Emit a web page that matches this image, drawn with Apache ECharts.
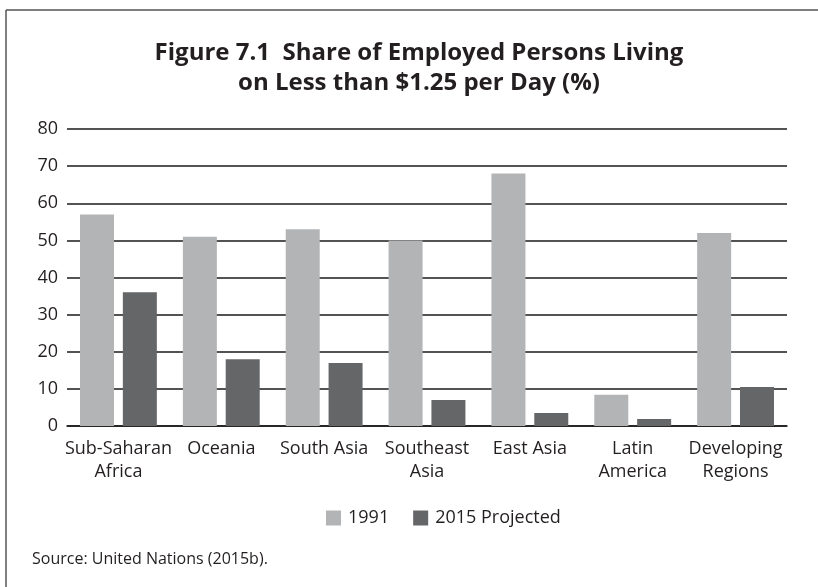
<!DOCTYPE html>
<html>
<head>
<meta charset="utf-8">
<script src="https://cdn.jsdelivr.net/npm/echarts@6/dist/echarts.min.js"></script>
<style>
html,body{margin:0;padding:0;background:#fff;}
#chart{width:818px;height:587px;}
</style>
</head>
<body>
<div id="chart"></div>
<script>
const categories = ['Sub-Saharan\nAfrica', 'Oceania', 'South Asia', 'Southeast\nAsia', 'East Asia', 'Latin\nAmerica', 'Developing\nRegions'];
const series1991 = [57, 51, 53, 50, 68, 8.4, 52];
const series2015 = [36, 18, 17, 7, 3.5, 1.9, 10.5];
const seriesNames = ['1991', '2015 Projected'];
const yTicks = {min: 0, max: 80, interval: 10};

const FONT = '"Open Sans", Lato, sans-serif';
const chart = echarts.init(document.getElementById('chart'));
chart.setOption({
  animation: false,
  backgroundColor: '#fff',
  title: {
    text: 'Figure 7.1  Share of Employed Persons Living\non Less than $1.25 per Day (%)',
    left: 414,
    top: 33,
    textAlign: 'center',
    textStyle: {fontFamily: FONT, fontSize: 24, fontWeight: 'bold', color: '#231f20', lineHeight: 30}
  },
  legend: {
    data: seriesNames,
    left: 321,
    top: 504,
    itemWidth: 15,
    itemHeight: 15,
    itemGap: 24,
    icon: 'rect',
    textStyle: {fontFamily: FONT, fontSize: 18, color: '#231f20', padding: [0, 0, 0, 2]}
  },
  grid: {left: 67, right: 31, top: 129, bottom: 161, containLabel: false},
  xAxis: {
    type: 'category',
    data: categories,
    axisLine: {show: true, lineStyle: {color: '#1a1a1a', width: 1.5}},
    axisTick: {show: false},
    axisLabel: {fontFamily: FONT, fontSize: 18, color: '#231f20', lineHeight: 23, margin: 11, interval: 0}
  },
  yAxis: {
    type: 'value',
    min: yTicks.min, max: yTicks.max, interval: yTicks.interval,
    axisLine: {show: false},
    axisTick: {show: false},
    splitLine: {show: true, lineStyle: {color: '#1a1a1a', width: 1.5}},
    axisLabel: {fontFamily: FONT, fontSize: 18, color: '#231f20', margin: 9}
  },
  series: [
    {name: seriesNames[0], type: 'bar', data: series1991, barWidth: 34, barGap: '26%', itemStyle: {color: '#b3b4b6'}},
    {name: seriesNames[1], type: 'bar', data: series2015, barWidth: 34, barGap: '26%', itemStyle: {color: '#656668'}}
  ],
  graphic: [
    {type: 'line', shape: {x1: 6, y1: 10, x2: 818, y2: 10}, style: {stroke: '#555', lineWidth: 1.5}},
    {type: 'line', shape: {x1: 6, y1: 10, x2: 6, y2: 587}, style: {stroke: '#555', lineWidth: 1.5}},
    {type: 'text', left: 32, top: 551, style: {text: 'Source: United Nations (2015b).', fontFamily: FONT, fontSize: 16, fill: '#231f20'}}
  ]
});
</script>
</body>
</html>
